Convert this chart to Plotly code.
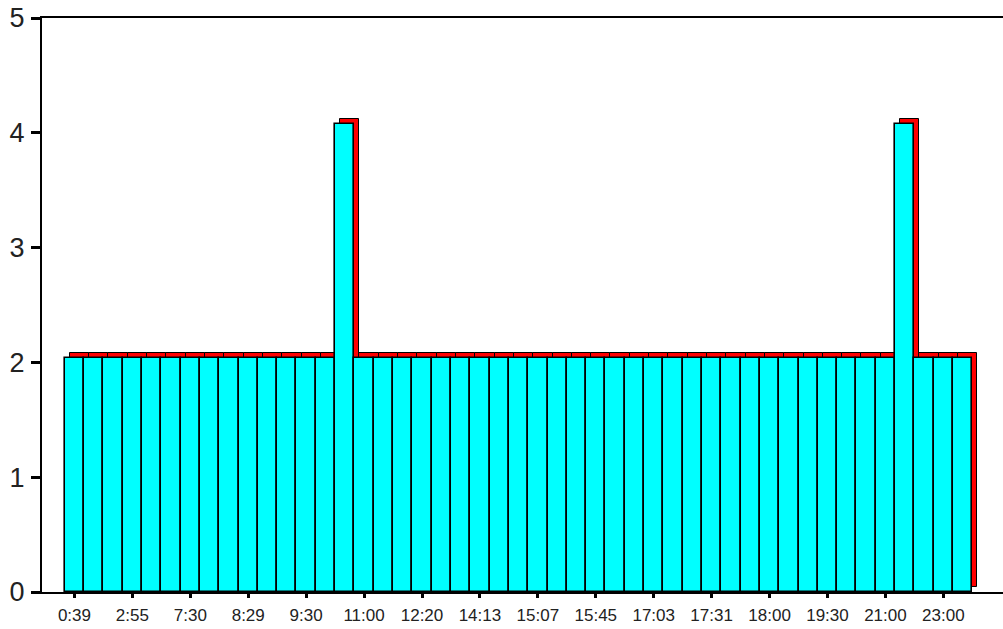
import plotly.graph_objects as go

# Bar positions (47 bars) and values
bar_index = list(range(47))
values = [2.04, 2.04, 2.04, 2.04, 2.04, 2.04, 2.04, 2.04, 2.04, 2.04,
          2.04, 2.04, 2.04, 2.04, 4.08, 2.04, 2.04, 2.04, 2.04, 2.04,
          2.04, 2.04, 2.04, 2.04, 2.04, 2.04, 2.04, 2.04, 2.04, 2.04,
          2.04, 2.04, 2.04, 2.04, 2.04, 2.04, 2.04, 2.04, 2.04, 2.04,
          2.04, 2.04, 2.04, 4.08, 2.04, 2.04, 2.04]

tick_positions = [0, 3, 6, 9, 12, 15, 18, 21, 24, 27, 30, 33, 36, 39, 42, 45]
tick_labels = ["0:39", "2:55", "7:30", "8:29", "9:30", "11:00", "12:20", "14:13",
               "15:07", "15:45", "17:03", "17:31", "18:00", "19:30", "21:00", "23:00"]

y_ticks = [0, 1, 2, 3, 4, 5]

depth_x = 0.26
depth_y = 0.044

fig = go.Figure()

# back (red) layer giving the 3D side/top faces
fig.add_trace(go.Bar(
    x=bar_index, y=values, base=depth_y, width=1, offset=-0.5 + depth_x,
    marker=dict(color="#FF0000", line=dict(color="black", width=1)),
    hoverinfo="skip", showlegend=False,
))

# front (cyan) faces
fig.add_trace(go.Bar(
    x=bar_index, y=values, width=1, offset=-0.5,
    marker=dict(color="#00FFFF", line=dict(color="black", width=1.6)),
    showlegend=False,
))

fig.update_layout(
    width=1003, height=629,
    margin=dict(l=42, r=0, t=18, b=37, autoexpand=False),
    paper_bgcolor="white", plot_bgcolor="white",
    barmode="overlay", bargap=0,
    font=dict(family="Liberation Sans, Arial, sans-serif", color="black"),
    showlegend=False,
)

fig.update_xaxes(
    range=[-1.68, 48.09], automargin=False,
    tickmode="array", tickvals=tick_positions, ticktext=tick_labels,
    ticks="outside", ticklen=4, tickwidth=3, tickcolor="black",
    tickfont=dict(size=17, color="#222222"),
    ticklabelstandoff=3, ticklabeloverflow="allow",
    showline=True, linecolor="black", linewidth=2, mirror=True,
    showgrid=False, zeroline=False,
)

fig.update_yaxes(
    range=[0, 5], automargin=False,
    tickmode="array", tickvals=y_ticks,
    ticks="outside", ticklen=9, tickwidth=3, tickcolor="black",
    tickfont=dict(size=27, color="#222222"),
    ticklabelstandoff=1, ticklabeloverflow="allow",
    showline=True, linecolor="black", linewidth=2, mirror=False,
    showgrid=False, zeroline=False,
)

# remove the default 8px page margin so the figure fills the window
fig.write_html(
    "out.html",
    config={"displayModeBar": False},
    post_script="document.body.style.margin='0';document.body.style.overflow='hidden';",
)
